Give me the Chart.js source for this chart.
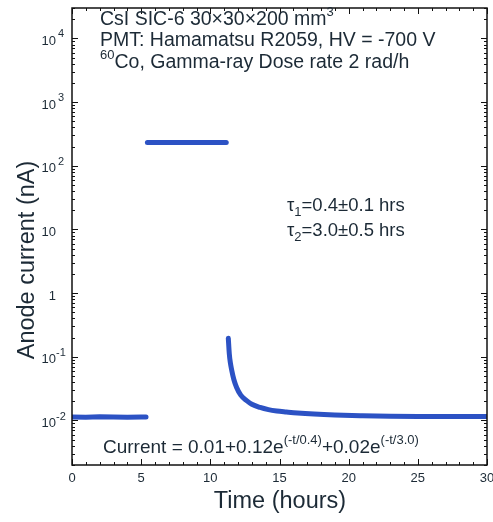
<!DOCTYPE html>
<html>
<head>
<meta charset="utf-8">
<script src="https://cdn.jsdelivr.net/npm/chart.js@4.4.1/dist/chart.umd.min.js"></script>
<style>
  html, body { margin: 0; padding: 0; background: #ffffff; }
  #wrap { width: 493px; height: 522px; position: relative; }
</style>
</head>
<body>
<div id="wrap"><canvas id="chart" width="493" height="522"></canvas></div>
<script>
// --- dados ---
const baseTime = [0, 1, 2, 3, 4, 5, 5.35];
const baseCurrent = [0.0113, 0.0112, 0.0114, 0.0113, 0.0112, 0.0113, 0.0113];

const plateauTime = [5.45, 6.5, 7.5, 8.5, 9.5, 10.5, 11.15];
const plateauCurrent = [232, 232, 232, 232, 232, 232, 232];

const decayTime = [11.3, 11.37, 11.45, 11.55, 11.7, 11.9, 12.2, 12.6, 13.0, 13.6, 14.2, 14.8, 15.5, 16.3, 17.5, 19, 21, 23, 25, 27, 29, 30];
const decayCurrent = [0.195, 0.112, 0.08, 0.061, 0.044, 0.033, 0.025, 0.0207, 0.018, 0.016, 0.0148, 0.0141, 0.0136, 0.0131, 0.0126, 0.0122, 0.0119, 0.0117, 0.0116, 0.0116, 0.0115, 0.0115];

const fitTime = [11.32, 11.4, 11.5, 11.6, 11.75, 11.95, 12.25, 12.65, 13.1, 13.7, 14.3, 15, 16, 17, 18.5, 20, 22, 25, 28, 30];
const fitCurrent = [0.17, 0.105, 0.075, 0.058, 0.042, 0.032, 0.0245, 0.0203, 0.0177, 0.0157, 0.0145, 0.0137, 0.013, 0.0125, 0.012, 0.0117, 0.0115, 0.0113, 0.0112, 0.0112];

const xTicks = [0, 5, 10, 15, 20, 25, 30];
const yTicks = [0.01, 0.1, 1, 10, 100, 1000, 10000];
const yTickLabels = [['10', '-2'], ['10', '-1'], ['1', ''], ['10', ''], ['10', '2'], ['10', '3'], ['10', '4']];

const FONT = '"Liberation Sans", Arial, sans-serif';
const TEXT = '#1c2a36';
const BLUE = '#2c52c4';

const toXY = (xs, ys) => xs.map((x, i) => ({ x: x, y: ys[i] }));

// Desenha moldura, ticks internos e textos
const framePlugin = {
    id: 'frame',
    afterDatasetsDraw(chart) {
        const ctx = chart.ctx;
        const { left, right, top, bottom } = chart.chartArea;
        const xs = chart.scales.x;
        const ys = chart.scales.y;

        ctx.save();
        ctx.strokeStyle = '#111';
        ctx.lineWidth = 1.5;
        ctx.strokeRect(left, top, right - left, bottom - top);

        ctx.lineWidth = 1;
        ctx.beginPath();
        // ticks do eixo x (embaixo e em cima)
        for (let v = 0; v <= 30; v += 1) {
            const px = Math.round(xs.getPixelForValue(v)) + 0.5;
            const len = v % 5 === 0 ? 6 : 3;
            ctx.moveTo(px, bottom); ctx.lineTo(px, bottom - len);
            ctx.moveTo(px, top); ctx.lineTo(px, top + len);
        }
        // ticks do eixo y (log, esquerda e direita)
        for (let e = -3; e <= 4; e++) {
            for (let m = 1; m <= 9; m++) {
                const v = m * Math.pow(10, e);
                if (v < ys.min || v > ys.max) continue;
                const py = Math.round(ys.getPixelForValue(v)) + 0.5;
                const len = m === 1 ? 6 : 3;
                ctx.moveTo(left, py); ctx.lineTo(left + len, py);
                ctx.moveTo(right, py); ctx.lineTo(right - len, py);
            }
        }
        ctx.stroke();

        // rótulos x
        ctx.fillStyle = TEXT;
        ctx.font = '13px ' + FONT;
        ctx.textAlign = 'center';
        ctx.textBaseline = 'middle';
        xTicks.forEach(v => ctx.fillText(String(v), xs.getPixelForValue(v), bottom + 13));

        // rótulos y com expoente
        yTicks.forEach((v, i) => {
            const py = ys.getPixelForValue(v) + 3;
            const [base, exp] = yTickLabels[i];
            ctx.font = '13px ' + FONT;
            ctx.textAlign = 'right';
            ctx.fillText(base, 56, py);
            if (exp) {
                ctx.font = '11px ' + FONT;
                ctx.textAlign = 'left';
                ctx.fillText(exp, exp.length > 1 ? 56 : 58, py - 7);
            }
        });

        // títulos dos eixos
        ctx.font = '23.5px ' + FONT;
        ctx.textAlign = 'center';
        ctx.fillText('Time (hours)', 280, 502);
        ctx.save();
        ctx.translate(28, 260);
        ctx.rotate(-Math.PI / 2);
        ctx.fillText('Anode current (nA)', 0, 0);
        ctx.restore();

        // textos de anotação
        const runs = (x, y, parts) => {
            ctx.textAlign = 'left';
            let cx = x;
            parts.forEach(p => {
                ctx.font = (p.sup ? '13px ' : (p.size || 19) + 'px ') + FONT;
                ctx.fillText(p.t, cx, y + (p.sup ? -8 : 0) + (p.sub ? 6 : 0));
                cx += ctx.measureText(p.t).width;
            });
        };
        runs(100, 20, [{ t: 'CsI SIC-6 30×30×200 mm', size: 19.5 }, { t: '3', sup: true }]);
        runs(100, 41, [{ t: 'PMT: Hamamatsu R2059, HV = -700 V', size: 19.5 }]);
        runs(100, 63, [{ t: '60', sup: true }, { t: 'Co, Gamma-ray Dose rate 2 rad/h', size: 19.5 }]);

        runs(287, 206, [{ t: 'τ', size: 18.5 }, { t: '1', size: 13, sub: true }, { t: '=0.4±0.1 hrs', size: 18.5 }]);
        runs(287, 231, [{ t: 'τ', size: 18.5 }, { t: '2', size: 13, sub: true }, { t: '=3.0±0.5 hrs', size: 18.5 }]);

        runs(103, 448, [
            { t: 'Current = 0.01+0.12e', size: 19 }, { t: '(-t/0.4)', sup: true },
            { t: '+0.02e', size: 19 }, { t: '(-t/3.0)', sup: true }
        ]);
        ctx.restore();
    }
};

new Chart(document.getElementById('chart'), {
    type: 'line',
    data: {
        datasets: [
            {
                data: toXY(baseTime, baseCurrent),
                borderColor: BLUE, borderWidth: 5, borderCapStyle: 'round',
                pointRadius: 0, tension: 0
            },
            {
                data: toXY(plateauTime, plateauCurrent),
                borderColor: BLUE, borderWidth: 5, borderCapStyle: 'round',
                pointRadius: 0, tension: 0
            },
            {
                data: toXY(decayTime, decayCurrent),
                borderColor: BLUE, borderWidth: 5, borderCapStyle: 'round',
                pointRadius: 0, cubicInterpolationMode: 'monotone'
            },
            {
                data: toXY(fitTime, fitCurrent),
                borderColor: '#ff3b3b', borderWidth: 1.6, borderDash: [2, 3],
                pointRadius: 0, cubicInterpolationMode: 'monotone'
            }
        ]
    },
    options: {
        responsive: false,
        animation: false,
        layout: { padding: { left: 72, top: 8, right: 6, bottom: 57 } },
        scales: {
            x: { type: 'linear', min: 0, max: 30, display: false },
            y: { type: 'logarithmic', min: 0.002, max: 30000, display: false }
        },
        plugins: {
            legend: { display: false },
            tooltip: { enabled: false }
        }
    },
    plugins: [framePlugin]
});
</script>
</body>
</html>
